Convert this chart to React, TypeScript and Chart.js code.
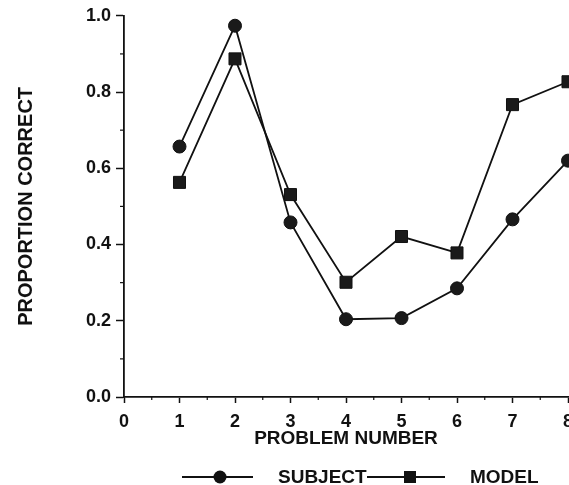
import React, { useEffect, useRef } from "react";
import { Chart, registerables } from "chart.js";

Chart.register(...registerables);

const problems = [1, 2, 3, 4, 5, 6, 7, 8];
const subject = [0.657, 0.974, 0.458, 0.204, 0.207, 0.285, 0.466, 0.62];
const model = [0.563, 0.887, 0.531, 0.301, 0.421, 0.378, 0.767, 0.827];
const seriesNames = ["SUBJECT", "MODEL"];
const xTicks = [0, 1, 2, 3, 4, 5, 6, 7, 8];
const yTicks = [0, 0.2, 0.4, 0.6, 0.8, 1.0];
const xMinor = [0.5, 1.5, 2.5, 3.5, 4.5, 5.5, 6.5, 7.5];
const yMinor = [0.1, 0.3, 0.5, 0.7, 0.9];
const xTitle = "PROBLEM NUMBER";
const yTitle = "PROPORTION CORRECT";

const FONT = "'Liberation Sans', Arial, Helvetica, sans-serif";
const INK = "#111";

const minorTicksPlugin = {
  id: "minorTicks",
  afterDraw(chart: any) {
    const { ctx, scales, chartArea } = chart;
    ctx.save();
    ctx.strokeStyle = INK;
    ctx.lineWidth = 1.2;
    yMinor.forEach((v) => {
      const py = scales.y.getPixelForValue(v);
      ctx.beginPath();
      ctx.moveTo(chartArea.left - 4, py);
      ctx.lineTo(chartArea.left, py);
      ctx.stroke();
    });
    xMinor.forEach((v) => {
      const px = scales.x.getPixelForValue(v);
      ctx.beginPath();
      ctx.moveTo(px, chartArea.bottom);
      ctx.lineTo(px, chartArea.bottom + 3);
      ctx.stroke();
    });
    ctx.restore();
  },
};

const legendPlugin = {
  id: "customLegend",
  afterDraw(chart: any) {
    const { ctx } = chart;
    const y = 477;
    ctx.save();
    ctx.strokeStyle = INK;
    ctx.fillStyle = INK;
    ctx.lineWidth = 1.8;
    // subject
    ctx.beginPath();
    ctx.moveTo(182, y);
    ctx.lineTo(253, y);
    ctx.stroke();
    ctx.beginPath();
    ctx.arc(220, y, 6.5, 0, Math.PI * 2);
    ctx.fill();
    // model
    ctx.beginPath();
    ctx.moveTo(367, y);
    ctx.lineTo(445, y);
    ctx.stroke();
    ctx.fillRect(410 - 6, y - 6, 12, 12);
    ctx.font = `bold 19px ${FONT}`;
    ctx.textBaseline = "middle";
    ctx.textAlign = "left";
    ctx.fillText(seriesNames[0], 278, y + 1);
    ctx.fillText(seriesNames[1], 470, y + 1);
    ctx.restore();
  },
};

export default function App() {
  const ref = useRef<HTMLCanvasElement>(null);
  useEffect(() => {
    const font = { family: FONT, size: 18, weight: "bold" as const };
    const xTitleFont = { family: FONT, size: 19, weight: "bold" as const };
    const yTitleFont = { family: FONT, size: 20, weight: "bold" as const };
    const chart = new Chart(ref.current!, {
      type: "line",
      data: {
        datasets: [
          {
            label: seriesNames[0],
            data: problems.map((p, i) => ({ x: p, y: subject[i] })),
            borderColor: INK,
            backgroundColor: INK,
            pointStyle: "circle",
            pointRadius: 6.5,
            pointBorderWidth: 1,
            pointBackgroundColor: "#1a1a1a",
            pointBorderColor: INK,
            borderWidth: 1.8,
            tension: 0,
            clip: false,
          },
          {
            label: seriesNames[1],
            data: problems.map((p, i) => ({ x: p, y: model[i] })),
            borderColor: INK,
            backgroundColor: INK,
            pointStyle: "rect",
            pointRadius: 8.5,
            pointBorderWidth: 1,
            pointBackgroundColor: "#1a1a1a",
            pointBorderColor: INK,
            borderWidth: 1.8,
            tension: 0,
            clip: false,
          },
        ],
      },
      options: {
        animation: false,
        responsive: false,
        layout: { autoPadding: false, padding: { top: 15, left: 0, right: 1, bottom: 0 } },
        plugins: { legend: { display: false }, tooltip: { enabled: false } },
        scales: {
          x: {
            type: "linear",
            min: 0,
            max: 8,
            afterBuildTicks: (s: any) => {
              s.ticks = xTicks.map((v) => ({ value: v }));
            },
            ticks: { font, color: INK, padding: 8, callback: (v: any) => String(v), maxRotation: 0 },
            grid: { drawOnChartArea: false, color: INK, tickLength: 6, tickColor: INK, tickWidth: 1.5 },
            border: { color: INK, width: 1.8 },
            title: { display: true, text: xTitle, font: xTitleFont, color: INK, padding: { top: 0, bottom: 35 } },
            afterFit: (s: any) => {
              s.height = 88;
              s.paddingLeft = 0;
              s.paddingRight = 0;
            },
          },
          y: {
            type: "linear",
            min: 0,
            max: 1,
            afterBuildTicks: (s: any) => {
              s.ticks = yTicks.map((v) => ({ value: v }));
            },
            ticks: { font, color: INK, padding: 5, callback: (v: any) => Number(v).toFixed(1) },
            grid: { drawOnChartArea: false, color: INK, tickLength: 8, tickColor: INK, tickWidth: 1.5 },
            border: { color: INK, width: 1.8 },
            title: { display: true, text: yTitle, font: yTitleFont, color: INK, padding: { top: 14, bottom: 0 } },
            afterFit: (s: any) => {
              s.width = 124;
            },
          },
        },
      },
      plugins: [minorTicksPlugin, legendPlugin],
    } as any);
    return () => chart.destroy();
  }, []);
  return (
    <div style={{ position: "fixed", left: 0, top: 0, width: 569, height: 485, background: "#fff" }}>
      <canvas ref={ref} width={569} height={485} style={{ width: 569, height: 485, display: "block" }} />
    </div>
  );
}
